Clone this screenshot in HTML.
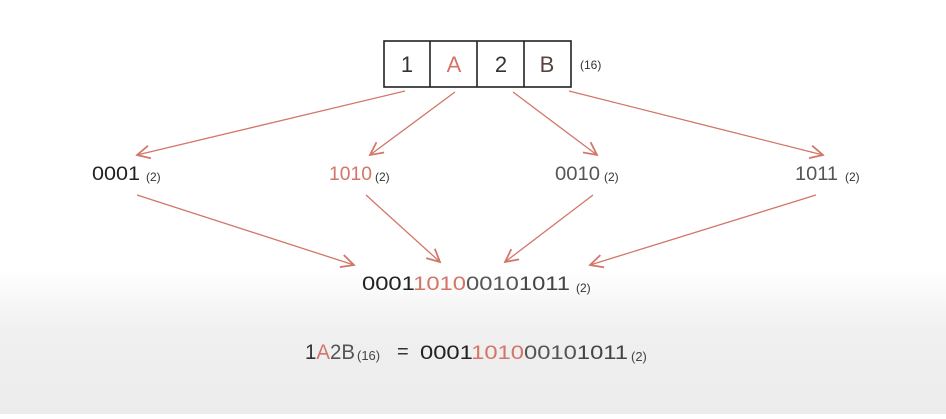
<!DOCTYPE html>
<html><head><meta charset="utf-8"><style>
html,body{margin:0;padding:0;}
body{width:946px;height:414px;overflow:hidden;background:linear-gradient(to bottom,#fff 0,#fff 270px,#f0f0f0 330px,#ececec 414px);font-family:"Liberation Sans",sans-serif;}
</style></head><body>
<svg width="946" height="414" viewBox="0 0 946 414" xmlns="http://www.w3.org/2000/svg" font-family="Liberation Sans, sans-serif">
<defs>
<marker id="a" viewBox="0 0 20 20" refX="18" refY="10" markerWidth="16" markerHeight="16" markerUnits="userSpaceOnUse" orient="auto">
<path d="M2 2 L18 10 L2 18" fill="none" stroke="#d27668" stroke-width="2.2"/>
</marker>
</defs>
<g fill="none" stroke="#222" stroke-width="1.6">
<rect x="384" y="41" width="187" height="46"/>
<line x1="430" y1="41" x2="430" y2="87"/>
<line x1="477" y1="41" x2="477" y2="87"/>
<line x1="524" y1="41" x2="524" y2="87"/>
</g>
<g font-size="22" text-anchor="middle">
<text x="407" y="72" fill="#333">1</text>
<text x="454" y="72" fill="#d27668">A</text>
<text x="501" y="72" fill="#333">2</text>
<text x="547" y="72" fill="#5a4440">B</text>
</g>
<text x="580" y="69" font-size="12" fill="#333">(16)</text>
<g stroke="#d27668" stroke-width="1.3" fill="none" marker-end="url(#a)">
<line x1="405" y1="91" x2="137" y2="155"/>
<line x1="455" y1="92" x2="370" y2="155"/>
<line x1="513" y1="92" x2="597" y2="155"/>
<line x1="569" y1="91" x2="823" y2="155"/>
<line x1="137" y1="195" x2="354" y2="265"/>
<line x1="366" y1="195" x2="440" y2="262"/>
<line x1="593" y1="195" x2="505" y2="262"/>
<line x1="816" y1="195" x2="590" y2="265"/>
</g>
<g font-size="19">
<text x="92" y="180" textLength="48" lengthAdjust="spacingAndGlyphs" fill="#222">0001</text>
<text x="329" y="180" textLength="43" lengthAdjust="spacingAndGlyphs" fill="#d27668">1010</text>
<text x="555" y="180" textLength="45" lengthAdjust="spacingAndGlyphs" fill="#555">0010</text>
<text x="795" y="180" textLength="43" lengthAdjust="spacingAndGlyphs" fill="#555">1011</text>
</g>
<g font-size="12">
<text x="146" y="181" fill="#333">(2)</text>
<text x="375" y="181" fill="#333">(2)</text>
<text x="604" y="181" fill="#333">(2)</text>
<text x="845" y="181" fill="#333">(2)</text>
</g>
<g font-size="19">
<text x="362" y="290" textLength="208" lengthAdjust="spacingAndGlyphs"><tspan fill="#222">0001</tspan><tspan fill="#d27668">1010</tspan><tspan fill="#555">0010</tspan><tspan fill="#444">1011</tspan></text>
</g>
<text x="576" y="292" font-size="12" fill="#333">(2)</text>
<text x="305" y="359" font-size="21" textLength="50" lengthAdjust="spacingAndGlyphs"><tspan fill="#333">1</tspan><tspan fill="#d27668">A</tspan><tspan fill="#555">2B</tspan></text>
<text x="357" y="360" font-size="13" fill="#444">(16)</text>
<text x="397" y="358" font-size="20" fill="#333">=</text>
<text x="420" y="359" font-size="19" textLength="208" lengthAdjust="spacingAndGlyphs"><tspan fill="#222">0001</tspan><tspan fill="#d27668">1010</tspan><tspan fill="#555">0010</tspan><tspan fill="#444">1011</tspan></text>
<text x="631" y="361" font-size="13" fill="#444">(2)</text>
</svg>
</body></html>
